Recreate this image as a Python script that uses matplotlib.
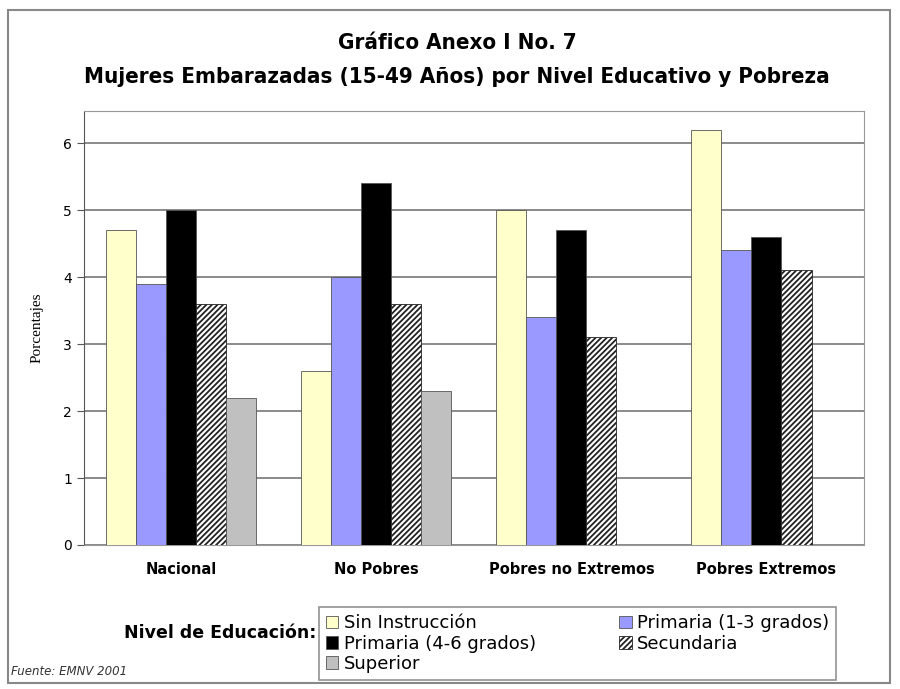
import numpy as np
import matplotlib
matplotlib.use('Agg')
from matplotlib import pyplot as plt
from matplotlib.patches import Rectangle

categorias = ['Nacional', 'No Pobres', 'Pobres no Extremos', 'Pobres Extremos']
niveles = ['Sin Instrucción', 'Primaria (1-3 grados)', 'Primaria (4-6 grados)',
           'Secundaria', 'Superior']
sin_instruccion = [4.7, 2.6, 5.0, 6.2]
primaria_1_3 = [3.9, 4.0, 3.4, 4.4]
primaria_4_6 = [5.0, 5.4, 4.7, 4.6]
secundaria = [3.6, 3.6, 3.1, 4.1]
superior = [2.2, 2.3, 0, 0]
yticks = [0, 1, 2, 3, 4, 5, 6]

series = [sin_instruccion, primaria_1_3, primaria_4_6, secundaria, superior]
colores = ['#FFFFCC', '#9999FF', '#000000', '#FFFFFF', '#C0C0C0']
tramas = [None, None, None, '//////', None]

plt.rcParams['hatch.linewidth'] = 1.3
fig = plt.figure(figsize=(9, 6.89), dpi=100)
fig.patches.append(Rectangle((0.009, 0.008), 0.98, 0.978, transform=fig.transFigure,
                             fill=False, edgecolor='#888888', lw=1.5))

ax = fig.add_axes([0.093, 0.209, 0.867, 0.63])
x = np.arange(len(categorias))
w = 0.154
barras = []
for i in range(len(series)):
    b = ax.bar(x - 2 * w + i * w, series[i], w, color=colores[i],
               edgecolor='#555555' if i != 3 else '#222222', lw=0.6,
               hatch=tramas[i], label=niveles[i], zorder=3)
    barras.append(b)

ax.set_xlim(-0.5, 3.5)
ax.set_ylim(0, 6.48)
ax.set_yticks(yticks)
ax.yaxis.grid(True, color='#777777', lw=1.2, zorder=0)
ax.set_xticks(x)
ax.set_xticklabels(categorias, fontweight='bold', fontsize=10.5)
ax.tick_params(axis='x', length=0, pad=12)
ax.tick_params(axis='y', labelsize=10, length=5, direction='out', color='#555555')
for s in ['top', 'right']:
    ax.spines[s].set_color('#999999')
ax.spines['left'].set_color('#555555')
ax.spines['bottom'].set_color('#999999')
ax.set_ylabel('Porcentajes', family='Liberation Serif', fontsize=11, labelpad=14)

fig.text(0.508, 0.937, 'Gráfico Anexo I No. 7', ha='center', va='center',
         fontsize=16, fontweight='bold', fontstretch='condensed', family='DejaVu Sans')
fig.text(0.508, 0.888, 'Mujeres Embarazadas (15-49 Años) por Nivel Educativo y Pobreza',
         ha='center', va='center', fontsize=16, fontweight='bold',
         fontstretch='condensed', family='DejaVu Sans')

orden = [0, 2, 4, 1, 3]
leg = fig.legend([barras[i] for i in orden], [niveles[i] for i in orden], ncol=2,
                 loc='lower left', bbox_to_anchor=(0.344, 0.0), fontsize=13,
                 frameon=True, fancybox=False, edgecolor='#777777',
                 handlelength=0.7, handleheight=0.7, handletextpad=0.3,
                 columnspacing=4.6, labelspacing=0.12, borderpad=0.4)
leg.get_frame().set_linewidth(1.2)
fig.text(0.245, 0.081, 'Nivel de Educación:', ha='center', va='center',
         fontsize=12.5, fontweight='bold')
fig.text(0.012, 0.02, 'Fuente: EMNV 2001', fontsize=8.5, style='italic', color='#333333')

fig.savefig('out.png', dpi=100)
